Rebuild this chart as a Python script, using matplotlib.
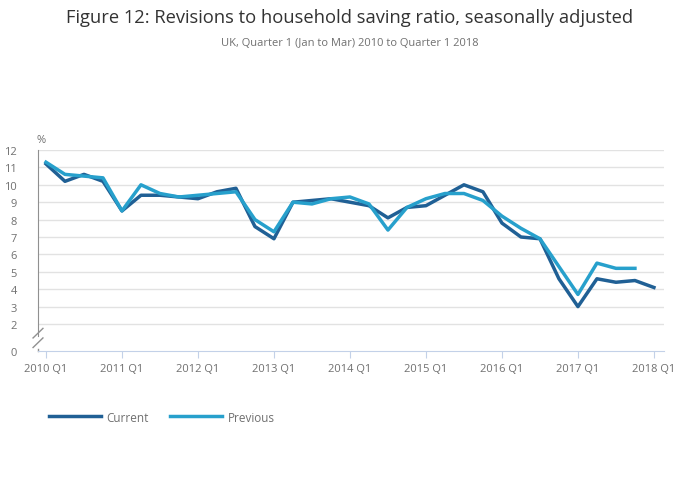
import numpy as np
import matplotlib
matplotlib.use("Agg")
import matplotlib.pyplot as plt

plt.rcParams['font.family'] = ['Open Sans', 'DejaVu Sans']

years = [str(y) for y in range(2010, 2019)]
tick_labels = [y + " Q1" for y in years]

# quarterly values, 2010 Q1 .. 2018 Q1
current = [11.2, 10.2, 10.6, 10.2, 8.5, 9.4, 9.4, 9.3, 9.2, 9.6, 9.8, 7.6,
           6.9, 9.0, 9.1, 9.2, 9.0, 8.8, 8.1, 8.7, 8.8, 9.4, 10.0, 9.6,
           7.8, 7.0, 6.9, 4.6, 3.0, 4.6, 4.4, 4.5, 4.1]
previous = [11.3, 10.6, 10.5, 10.4, 8.5, 10.0, 9.5, 9.3, 9.4, 9.5, 9.6, 8.0,
            7.3, 9.0, 8.9, 9.2, 9.3, 8.9, 7.4, 8.7, 9.2, 9.5, 9.5, 9.1,
            8.2, 7.5, 6.9, 5.3, 3.7, 5.5, 5.2, 5.2]
y_ticks = [2, 3, 4, 5, 6, 7, 8, 9, 10, 11, 12]

dark = "#206095"
light = "#27a0cc"
grey = "#707070"

fig = plt.figure(figsize=(7, 5.02), dpi=100)
ax = fig.add_axes([38/700, 150/502, 626/700, 201/502])

zero_pos = 0.45  # axis is broken below 2
ax.set_ylim(zero_pos, 12)
ax.set_xlim(-0.42, 32.53)

for v in y_ticks:
    ax.axhline(v, color="#e2e2e2", lw=1, zorder=0)

ax.plot(range(len(current)), current, color=dark, lw=2.5, label="Current", zorder=3)
ax.plot(range(len(previous)), previous, color=light, lw=2.5, label="Previous", zorder=4)

ax.set_yticks([zero_pos] + y_ticks)
ax.set_yticklabels(["0"] + [str(v) for v in y_ticks])
ax.set_xticks(np.arange(0, 33, 4))
ax.set_xticklabels(tick_labels)
ax.tick_params(axis="y", length=0, pad=15, labelsize=8, labelcolor=grey)
ax.tick_params(axis="x", length=5, color="#c3d1e8", pad=4, labelsize=8, labelcolor=grey)

for s in ["top", "right"]:
    ax.spines[s].set_visible(False)
ax.spines["bottom"].set_color("#c3d1e8")
ax.spines["left"].set_color("#909090")
ax.spines["left"].set_bounds(1.3, 12)

# break marks on y axis
for dy in [0, 0.55]:
    ax.plot([-0.68, -0.16], [1.2 - dy, 1.75 - dy], color="#909090", lw=1,
            clip_on=False, transform=ax.transData)
ax.plot([-0.42, -0.42], [zero_pos, 0.55], color="#909090", lw=1, clip_on=False)

ax.text(-0.5, 12.3, "%", fontsize=8, color=grey, ha="left", va="bottom")

fig.text(0.5, 1 - 18/502, "Figure 12: Revisions to household saving ratio, seasonally adjusted",
         ha="center", va="center", fontsize=13.2, color="#333333")
fig.text(0.5, 1 - 44/502, "UK, Quarter 1 (Jan to Mar) 2010 to Quarter 1 2018",
         ha="center", va="center", fontsize=8, color=grey)

leg = fig.legend(loc="center left", bbox_to_anchor=(38/700, 1 - 418/502), ncol=2,
                 frameon=False, fontsize=8.5, handlelength=4.4, columnspacing=1.8,
                 handletextpad=0.5)
for t in leg.get_texts():
    t.set_color(grey)

fig.savefig("out.png", dpi=100)
